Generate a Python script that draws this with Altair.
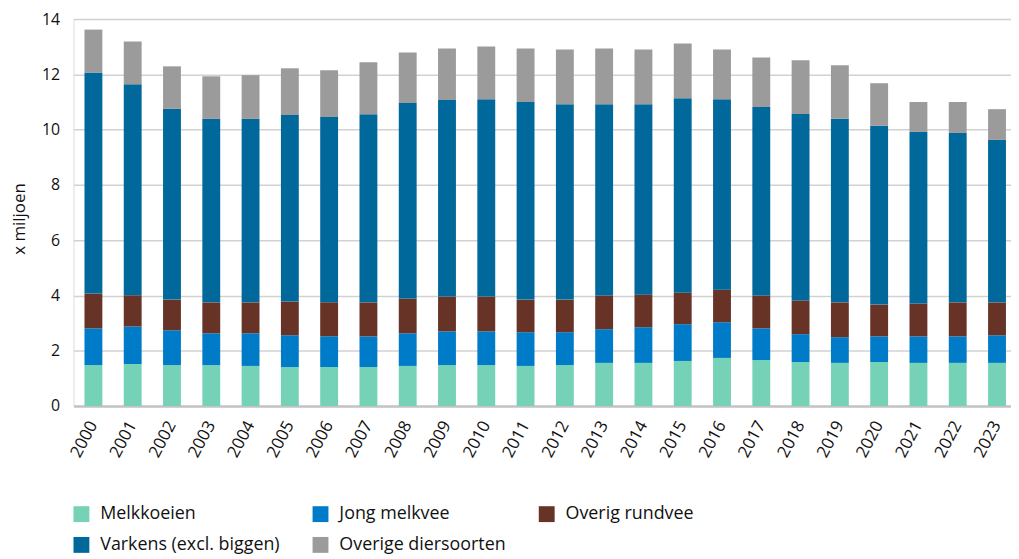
import altair as alt
import pandas as pd

years = [str(y) for y in range(2000, 2024)]
series = ["Melkkoeien", "Jong melkvee", "Overig rundvee", "Varkens (excl. biggen)", "Overige diersoorten"]
colors = ["#76D2B6", "#007BC7", "#673327", "#01689B", "#9B9B9B"]

melkkoeien = [1.48, 1.52, 1.48, 1.48, 1.45, 1.41, 1.41, 1.41, 1.45, 1.48, 1.48, 1.45,
              1.48, 1.56, 1.56, 1.63, 1.74, 1.66, 1.59, 1.56, 1.59, 1.56, 1.56, 1.56]
jong_melkvee = [1.33, 1.36, 1.26, 1.15, 1.18, 1.15, 1.11, 1.11, 1.18, 1.22, 1.22, 1.22,
                1.19, 1.22, 1.29, 1.33, 1.29, 1.15, 1.01, 0.93, 0.93, 0.96, 0.96, 1.00]
overig_rundvee = [1.26, 1.13, 1.11, 1.12, 1.12, 1.22, 1.23, 1.23, 1.26, 1.26, 1.26, 1.18,
                  1.18, 1.22, 1.18, 1.14, 1.18, 1.19, 1.22, 1.26, 1.15, 1.19, 1.23, 1.19]
varkens = [8.00, 7.63, 6.90, 6.64, 6.64, 6.75, 6.71, 6.81, 7.07, 7.11, 7.14, 7.15,
           7.07, 6.92, 6.89, 7.04, 6.89, 6.82, 6.75, 6.64, 6.47, 6.21, 6.13, 5.88]
overige = [1.55, 1.55, 1.54, 1.54, 1.58, 1.69, 1.69, 1.88, 1.83, 1.87, 1.91, 1.94,
           1.98, 2.02, 1.98, 1.98, 1.80, 1.79, 1.94, 1.94, 1.54, 1.08, 1.12, 1.11]

values = [melkkoeien, jong_melkvee, overig_rundvee, varkens, overige]
rows = []
for si, (name, vals) in enumerate(zip(series, values)):
    for y, v in zip(years, vals):
        rows.append({"jaar": y, "soort": name, "waarde": v, "volgorde": si})
df = pd.DataFrame(rows)

FONT = "Open Sans"

chart = alt.Chart(df).mark_bar().encode(
    x=alt.X("jaar:N", title=None, sort=years,
            scale=alt.Scale(range=[0, 951], paddingInner=0.545, paddingOuter=0.28),
            axis=alt.Axis(labelAngle=-62, labelAlign="right", labelBaseline="middle",
                          ticks=False, labelPadding=16, labelFontSize=17,
                          labelColor="#111111", labelFont=FONT,
                          domainColor="#c4c4c4", domainWidth=2.5)),
    y=alt.Y("waarde:Q", title="x miljoen", stack="zero",
            scale=alt.Scale(domain=[0, 14], nice=False),
            axis=alt.Axis(values=[0, 2, 4, 6, 8, 10, 12, 14], ticks=False, domain=False,
                          labelPadding=14, labelFontSize=16, labelColor="#111111",
                          labelFont=FONT, gridColor="#d2d2d2", gridWidth=1.5,
                          titleFont=FONT, titleFontSize=17, titleFontWeight="normal",
                          titleColor="#111111", titleX=-45, titleY=201)),
    color=alt.Color("soort:N", sort=series,
                    scale=alt.Scale(domain=series, range=colors),
                    legend=alt.Legend(title=None, orient="none", legendX=-1, legendY=490,
                                      direction="horizontal", columns=3,
                                      symbolType="square", symbolSize=256,
                                      symbolStrokeWidth=0, symbolOpacity=1,
                                      labelFont=FONT, labelFontSize=18,
                                      labelColor="#111111", labelOffset=10,
                                      columnPadding=32, rowPadding=13,
                                      labelLimit=400)),
    order=alt.Order("volgorde:Q", sort="ascending"),
).properties(
    width=945, height=390,
    autosize=alt.AutoSizeParams(type="none"),
    padding={"left": 66, "top": 9, "right": 0, "bottom": 148},
).configure_view(stroke=None).configure(background="white")

chart.save("out.html", embed_options={"renderer": "svg", "actions": False})
